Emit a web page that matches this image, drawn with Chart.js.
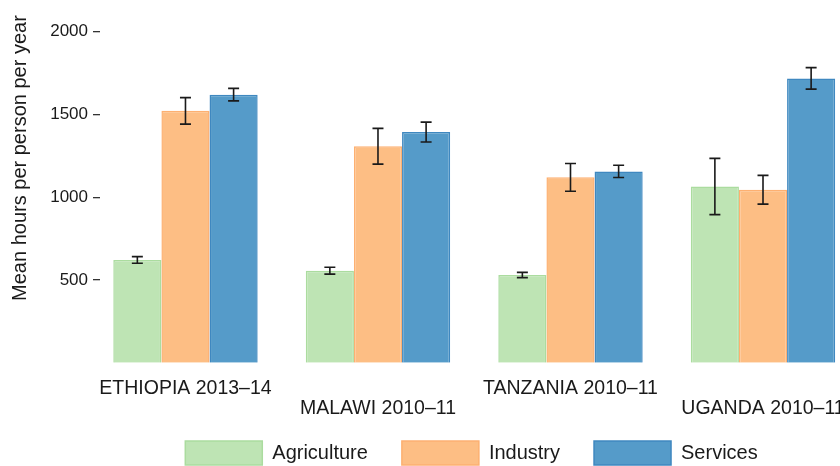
<!DOCTYPE html>
<html>
<head>
<meta charset="utf-8">
<script src="https://cdn.jsdelivr.net/npm/chart.js@4.4.0/dist/chart.umd.min.js"></script>
<style>
  html, body { margin: 0; padding: 0; background: #fff; overflow: hidden; }
  #wrap { width: 943px; height: 475px; }
</style>
</head>
<body>
<div id="wrap"><canvas id="chart" width="943" height="475"></canvas></div>
<script>
// data
const countries = ['ETHIOPIA 2013–14', 'MALAWI 2010–11', 'TANZANIA 2010–11', 'UGANDA 2010–11'];
const agriculture = [621, 556, 530, 1065];
const agricultureErr = [20, 21, 16, 170];
const industry = [1522, 1308, 1120, 1045];
const industryErr = [80, 108, 84, 87];
const services = [1620, 1394, 1156, 1718];
const servicesErr = [38, 60, 37, 65];
const yTicks = [500, 1000, 1500, 2000];

const FONT = 'Liberation Sans, Arial, sans-serif';

// ---------------- error bars ----------------
const errorBars = {
  id: 'errorBars',
  beforeDraw(chart) {
    // let the two-line x labels draw below the axis box (it clips to its own box)
    chart.scales.x.bottom = chart.height;
  },
  afterDatasetsDraw(chart) {
    const ctx = chart.ctx;
    const y = chart.scales.y;
    ctx.save();
    ctx.strokeStyle = '#1a1a1a';
    ctx.lineWidth = 1.6;
    chart.data.datasets.forEach((ds, i) => {
      const meta = chart.getDatasetMeta(i);
      meta.data.forEach((bar, j) => {
        const v = ds.data[j], e = ds.errors[j];
        const top = y.getPixelForValue(v + e);
        const bot = y.getPixelForValue(v - e);
        const cap = 5.5;
        ctx.beginPath();
        ctx.moveTo(bar.x, top); ctx.lineTo(bar.x, bot);
        ctx.moveTo(bar.x - cap, top); ctx.lineTo(bar.x + cap, top);
        ctx.moveTo(bar.x - cap, bot); ctx.lineTo(bar.x + cap, bot);
        ctx.stroke();
      });
    });
    ctx.restore();
  }
};

new Chart(document.getElementById('chart'), {
  type: 'bar',
  data: {
    labels: countries.map((c, i) => i),
    datasets: [
      { label: 'Agriculture', data: agriculture, errors: agricultureErr,
        backgroundColor: '#bee4b4', borderColor: '#abdc9f', borderWidth: 1.5 },
      { label: 'Industry', data: industry, errors: industryErr,
        backgroundColor: '#fdbe84', borderColor: '#fdb071', borderWidth: 1.5 },
      { label: 'Services', data: services, errors: servicesErr,
        backgroundColor: '#559bc9', borderColor: '#3f88c0', borderWidth: 1.5 }
    ]
  },
  options: {
    responsive: false,
    animation: false,
    categoryPercentage: 0.75,
    barPercentage: 1,
    layout: { padding: { left: 0, right: 0, top: 2.4, bottom: 0 } },
    plugins: {
      tooltip: { enabled: false },
      legend: {
        position: 'bottom',
        labels: {
          boxWidth: 77, boxHeight: 24, padding: 34,
          color: '#1a1a1a',
          font: { family: FONT, size: 20 }
        }
      }
    },
    scales: {
      x: {
        type: 'linear',
        offset: false,
        min: -0.444,
        max: 3.935,
        afterBuildTicks: s => { s.ticks = countries.map((c, i) => ({ value: i })); },
        afterFit: s => { s.height = 44.3; s.paddingLeft = 0; s.paddingRight = 0; },
        grid: { display: false, drawTicks: false },
        border: { display: false },
        ticks: {
          padding: 16,
          color: '#1a1a1a',
          font: { family: FONT, size: 19.5, lineHeight: '20px' },
          callback: v => (v % 2 ? ['', countries[v]] : [countries[v], ''])
        }
      },
      y: {
        min: 0,
        max: 2100,
        afterBuildTicks: s => { s.ticks = yTicks.map(v => ({ value: v })); },
        afterFit: s => { s.width = 100; },
        grid: { drawOnChartArea: false, drawTicks: true, tickLength: 7, color: '#333', lineWidth: 1.3 },
        border: { display: false },
        ticks: {
          padding: 5,
          color: '#1a1a1a',
          font: { family: FONT, size: 17 },
          callback: v => String(v)
        },
        title: {
          display: true,
          text: 'Mean hours per person per year',
          align: 'end',
          color: '#1a1a1a',
          font: { family: FONT, size: 20 },
          padding: { top: 8, bottom: 0 }
        }
      }
    }
  },
  plugins: [errorBars]
});
</script>
</body>
</html>
